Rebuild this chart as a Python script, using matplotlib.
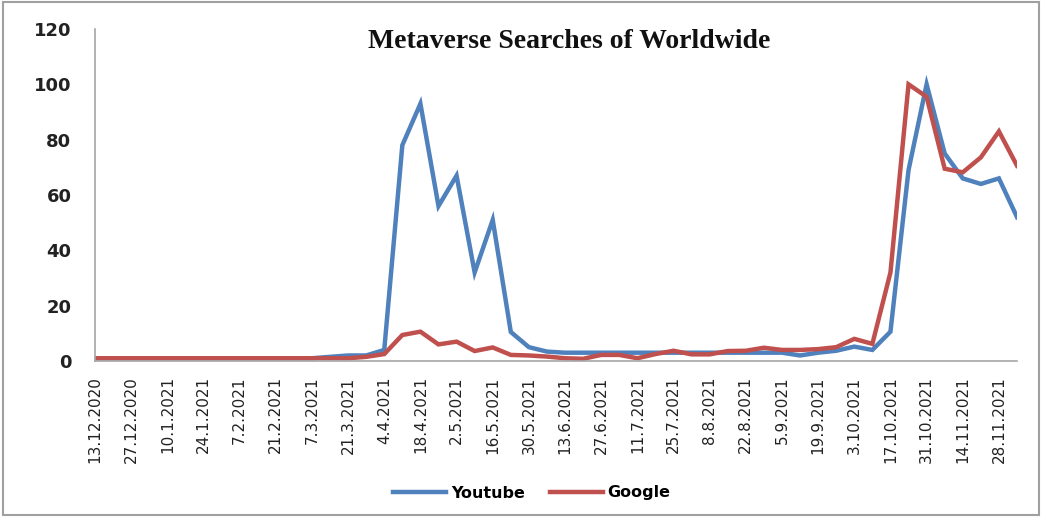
import matplotlib
matplotlib.use("Agg")
import matplotlib.pyplot as plt
from matplotlib.patches import Rectangle

weeks = ["13.12.2020", "20.12.2020", "27.12.2020", "3.1.2021", "10.1.2021", "17.1.2021",
         "24.1.2021", "31.1.2021", "7.2.2021", "14.2.2021", "21.2.2021", "28.2.2021",
         "7.3.2021", "14.3.2021", "21.3.2021", "28.3.2021", "4.4.2021", "11.4.2021",
         "18.4.2021", "25.4.2021", "2.5.2021", "9.5.2021", "16.5.2021", "23.5.2021",
         "30.5.2021", "6.6.2021", "13.6.2021", "20.6.2021", "27.6.2021", "4.7.2021",
         "11.7.2021", "18.7.2021", "25.7.2021", "1.8.2021", "8.8.2021", "15.8.2021",
         "22.8.2021", "29.8.2021", "5.9.2021", "12.9.2021", "19.9.2021", "26.9.2021",
         "3.10.2021", "10.10.2021", "17.10.2021", "24.10.2021", "31.10.2021", "7.11.2021",
         "14.11.2021", "21.11.2021", "28.11.2021", "5.12.2021"]

youtube = [1, 1, 1, 1, 1, 1, 1, 1, 1, 1, 1, 1, 1,
           1.5, 2, 2, 4, 78, 93, 56, 67, 32, 51, 10.5, 5,
           3.4, 3, 3, 3, 3, 3, 3, 3, 3, 3, 3, 3, 3, 3, 2, 3,
           3.7, 5.2, 4, 10.6, 69, 100, 75, 66, 64, 66, 52]

google = [1, 1, 1, 1, 1, 1, 1, 1, 1, 1, 1, 1, 1, 1, 1,
          1.5, 2.5, 9.4, 10.6, 6, 7, 3.6, 4.9, 2.2, 2,
          1.6, 1, 0.8, 2.2, 2.2, 1, 2.5, 3.7, 2.4, 2.4, 3.6, 3.7, 4.8, 4, 4, 4.3,
          5, 8, 6.2, 32, 100, 95.5, 69.5, 68.2, 73.6, 83, 70.6]

tick_labels = weeks[::2]
yticks = [0, 20, 40, 60, 80, 100, 120]

fig = plt.figure(figsize=(10.42, 5.20), dpi=100)
ax = fig.add_axes([95/1042, 1 - 361/520, (1017 - 95)/1042, (361 - 29)/520])

x = list(range(len(weeks)))
ax.plot(x, youtube, color="#4F81BD", lw=3.2, label="Youtube", solid_joinstyle="miter")
ax.plot(x, google, color="#C0504D", lw=3.2, label="Google", solid_joinstyle="miter")

ax.set_xlim(0, len(weeks) - 1)
ax.set_ylim(0, 120)
ax.set_yticks(yticks)
ax.set_yticklabels([str(v) for v in yticks], fontsize=13, fontweight="bold", color="#222222")
ax.set_xticks(x[::2])
ax.set_xticklabels(tick_labels, rotation=90, fontsize=11, va="top", ha="center", color="#222222")
ax.tick_params(axis="y", length=0, pad=17)
ax.tick_params(axis="x", length=0, pad=11)

for s in ["top", "right"]:
    ax.spines[s].set_visible(False)
for s in ["left", "bottom"]:
    ax.spines[s].set_color("#A6A6A6")
    ax.spines[s].set_linewidth(1.2)

fig.text(569/1042, 1 - 42/520, "Metaverse Searches of Worldwide", ha="center", va="center",
         fontsize=20, fontweight="bold", family="Liberation Serif", color="#111111")

leg = fig.legend(loc="center", bbox_to_anchor=(532/1042, 1 - 493/520), ncol=2, frameon=False,
                 prop={"size": 11.5, "weight": "bold"}, handlelength=3.3, handletextpad=0.3,
                 columnspacing=1.6)

fig.patches.append(Rectangle((3/1042, 1 - 515/520), (1039 - 3)/1042, (515 - 2)/520,
                             transform=fig.transFigure, fill=False, edgecolor="#A0A0A0", lw=1.5))

fig.savefig("out.png", dpi=100)
